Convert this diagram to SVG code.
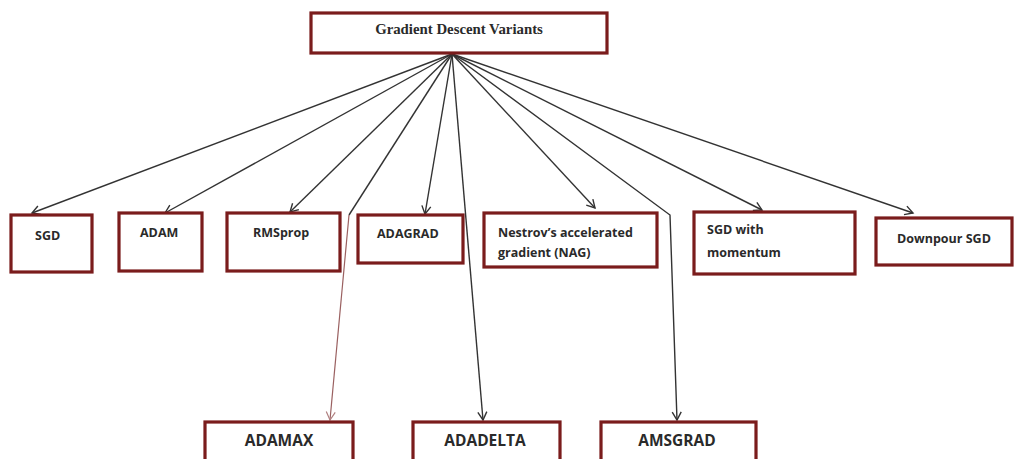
<svg xmlns="http://www.w3.org/2000/svg" width="1016" height="459" viewBox="0 0 1016 459">
  <style>
    .box { fill: #ffffff; stroke: #7a1c1c; stroke-width: 3.2; }
    .lbl { font-family: "Open Sans", "Liberation Sans", sans-serif; font-weight: bold; font-size: 12.5px; fill: #2a2a2a; }
    .big { font-size: 15.5px; }
    .title { font-family: "Liberation Serif", "DejaVu Serif", serif; font-weight: bold; font-size: 14.8px; fill: #2a2a2a; }
    .edge { fill: none; stroke: #333333; stroke-width: 1.4; marker-end: url(#arr); }
    .edge-soft { fill: none; stroke: #9a6060; stroke-width: 1.2; marker-end: url(#arr-soft); }
  </style>
  <defs>
    <marker id="arr" viewBox="-10 -6 12 12" refX="0" refY="0" markerWidth="12" markerHeight="12" markerUnits="userSpaceOnUse" orient="auto">
      <path d="M -8 -4.5 L 0 0 L -8 4.5" fill="none" stroke="#333333" stroke-width="1.4"/>
    </marker>
    <marker id="arr-soft" viewBox="-10 -6 12 12" refX="0" refY="0" markerWidth="12" markerHeight="12" markerUnits="userSpaceOnUse" orient="auto">
      <path d="M -8 -4.5 L 0 0 L -8 4.5" fill="none" stroke="#b08080" stroke-width="1.2"/>
    </marker>
  </defs>

  <rect width="1016" height="459" fill="#ffffff"/>

  <g id="connectors">
    <path class="edge" d="M 452 54 L 32 213"/>
    <path class="edge" d="M 452 54 L 165 213"/>
    <path class="edge" d="M 452 54 L 290 212"/>
    <path class="edge" d="M 452 54 L 425 214"/>
    <path class="edge" d="M 452 54 L 595 208"/>
    <path class="edge" d="M 452 54 L 762 210"/>
    <path class="edge" d="M 452 54 L 913 213"/>
    <path class="edge" d="M 452 54 L 483 420"/>
    <path class="edge" d="M 452 54 L 670 215 L 677 420"/>
    <path d="M 452 54 L 349 215" fill="none" stroke="#333333" stroke-width="1.4"/>
    <path class="edge-soft" d="M 349 215 L 330 420"/>
  </g>

  <g id="root">
    <rect class="box" x="311" y="13" width="296" height="40"/>
    <text class="title" x="459" y="34" text-anchor="middle">Gradient Descent Variants</text>
  </g>

  <g id="sgd">
    <rect class="box" x="11" y="215" width="81" height="57"/>
    <text class="lbl" x="35" y="240">SGD</text>
  </g>
  <g id="adam">
    <rect class="box" x="119" y="213" width="83" height="58"/>
    <text class="lbl" x="140" y="237">ADAM</text>
  </g>
  <g id="rmsprop">
    <rect class="box" x="227" y="213" width="113" height="58"/>
    <text class="lbl" x="253" y="237">RMSprop</text>
  </g>
  <g id="adagrad">
    <rect class="box" x="358" y="215" width="105" height="48"/>
    <text class="lbl" x="377" y="238">ADAGRAD</text>
  </g>
  <g id="nag">
    <rect class="box" x="484" y="213" width="173" height="54"/>
    <text class="lbl" x="498" y="237">Nestrov’s accelerated</text>
    <text class="lbl" x="498" y="257">gradient (NAG)</text>
  </g>
  <g id="sgd-momentum">
    <rect class="box" x="694" y="212" width="161" height="62"/>
    <text class="lbl" x="707" y="234">SGD with</text>
    <text class="lbl" x="707" y="257">momentum</text>
  </g>
  <g id="downpour-sgd">
    <rect class="box" x="876" y="218" width="136" height="47"/>
    <text class="lbl" x="897" y="243">Downpour SGD</text>
  </g>

  <g id="adamax">
    <rect class="box" x="205" y="422" width="148" height="44"/>
    <text class="lbl big" x="279" y="446" text-anchor="middle">ADAMAX</text>
  </g>
  <g id="adadelta">
    <rect class="box" x="413" y="422" width="147" height="44"/>
    <text class="lbl big" x="485" y="446" text-anchor="middle">ADADELTA</text>
  </g>
  <g id="amsgrad">
    <rect class="box" x="601" y="422" width="155" height="44"/>
    <text class="lbl big" x="677" y="446" text-anchor="middle">AMSGRAD</text>
  </g>
</svg>
